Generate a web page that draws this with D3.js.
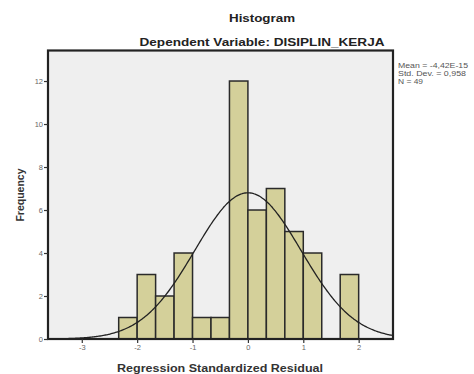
<!DOCTYPE html>
<html>
<head>
<meta charset="utf-8">
<script src="https://cdn.jsdelivr.net/npm/d3@7"></script>
<style>
  body { margin: 0; background: #fff; }
  text { font-family: "Liberation Sans", Arial, sans-serif; }
</style>
</head>
<body>
<div id="chart"></div>
<script>
// bins of the residual histogram (edges in SD units) and their counts
var binStarts = [-7, -6, -5, -4, -3, -2, -1, 0, 1, 2, 3, 4, 5].map(function(k) { return k / 3; });
var counts = [1, 3, 2, 4, 1, 1, 12, 6, 7, 5, 4, 0, 3];
var binWidth = 1 / 3;
var xTicks = [-3, -2, -1, 0, 1, 2];
var yTicks = [0, 2, 4, 6, 8, 10, 12];

// fitted normal shown by SPSS
var mean = -4.42e-15, sd = 0.958, n = 49;
var statLines = ["Mean = -4,42E-15", "Std. Dev. = 0,958", "N = 49"];

var W = 474, H = 374;
var margin = {top: 50.5, right: 81, bottom: 35, left: 48};
var width = W - margin.left - margin.right,
    height = H - margin.top - margin.bottom;

var svg = d3.select("#chart").append("svg")
  .attr("width", W).attr("height", H);

var x = d3.scaleLinear().domain([-3.61, 2.62]).range([margin.left, margin.left + width]);
var y = d3.scaleLinear().domain([0, 13.42]).range([margin.top + height, margin.top]);

// titles (the source is a bit stretched sideways, so fix widths)
svg.append("text").attr("x", 262).attr("y", 22)
  .attr("text-anchor", "middle").attr("font-size", 11).attr("font-weight", "bold")
  .attr("textLength", 66).attr("lengthAdjust", "spacingAndGlyphs")
  .attr("fill", "#222").text("Histogram");
svg.append("text").attr("x", 262).attr("y", 46)
  .attr("text-anchor", "middle").attr("font-size", 11.5).attr("font-weight", "bold")
  .attr("textLength", 245).attr("lengthAdjust", "spacingAndGlyphs")
  .attr("fill", "#222").text("Dependent Variable: DISIPLIN_KERJA");

// plot background
svg.append("rect")
  .attr("x", margin.left).attr("y", margin.top)
  .attr("width", width).attr("height", height)
  .attr("fill", "#efefef");

// bars
svg.selectAll("rect.bar")
  .data(counts.map(function(c, i) { return {x0: binStarts[i], c: c}; }).filter(function(d) { return d.c > 0; }))
  .enter().append("rect")
  .attr("class", "bar")
  .attr("x", function(d) { return x(d.x0); })
  .attr("y", function(d) { return y(d.c); })
  .attr("width", function(d) { return x(d.x0 + binWidth) - x(d.x0); })
  .attr("height", function(d) { return y(0) - y(d.c); })
  .attr("fill", "#d4d09a")
  .attr("stroke", "#2a2a2a")
  .attr("stroke-width", 1.5);

// normal curve
var curveX = d3.range(x.domain()[0], x.domain()[1] + 0.001, 0.02);
var line = d3.line()
  .x(function(d) { return x(d); })
  .y(function(d) {
    var z = (d - mean) / sd;
    return y(n * binWidth * Math.exp(-0.5 * z * z) / (sd * Math.sqrt(2 * Math.PI)));
  })
  .curve(d3.curveBasis);
svg.append("path").datum(curveX)
  .attr("d", line)
  .attr("fill", "none").attr("stroke", "#222").attr("stroke-width", 1.3);

// frame
svg.append("rect")
  .attr("x", margin.left).attr("y", margin.top)
  .attr("width", width).attr("height", height)
  .attr("fill", "none").attr("stroke", "#222").attr("stroke-width", 2.2);

// axes
var xAxis = d3.axisBottom(x).tickValues(xTicks).tickSize(4).tickPadding(2)
  .tickFormat(function(d) { return d; });
var yAxis = d3.axisLeft(y).tickValues(yTicks).tickSize(4).tickPadding(1)
  .tickFormat(function(d) { return d; });

var gx = svg.append("g").attr("transform", "translate(0," + (margin.top + height) + ")").call(xAxis);
var gy = svg.append("g").attr("transform", "translate(" + margin.left + ",0)").call(yAxis);
[gx, gy].forEach(function(g) {
  g.select(".domain").remove();
  g.selectAll(".tick line").attr("stroke", "#333").attr("stroke-width", 1.2);
  g.selectAll(".tick text").attr("font-size", 7.5).attr("fill", "#666")
    .attr("font-family", "'Liberation Sans', Arial, sans-serif");
});

// axis titles
svg.append("text").attr("x", 220).attr("y", 372)
  .attr("text-anchor", "middle").attr("font-size", 10.5).attr("font-weight", "bold")
  .attr("textLength", 206).attr("lengthAdjust", "spacingAndGlyphs")
  .attr("fill", "#333").text("Regression Standardized Residual");
svg.append("text")
  .attr("transform", "translate(24," + 195 + ") rotate(-90)")
  .attr("text-anchor", "middle").attr("font-size", 10.5).attr("font-weight", "bold")
  .attr("fill", "#333").text("Frequency");

// stats box
svg.append("g").selectAll("text").data(statLines).enter().append("text")
  .attr("x", 398).attr("y", function(d, i) { return 68 + i * 8; })
  .attr("font-size", 7.5).attr("fill", "#555")
  .attr("textLength", function(d, i) { return [70, 68, 25][i]; })
  .attr("lengthAdjust", "spacingAndGlyphs")
  .text(function(d) { return d; });
</script>
</body>
</html>
